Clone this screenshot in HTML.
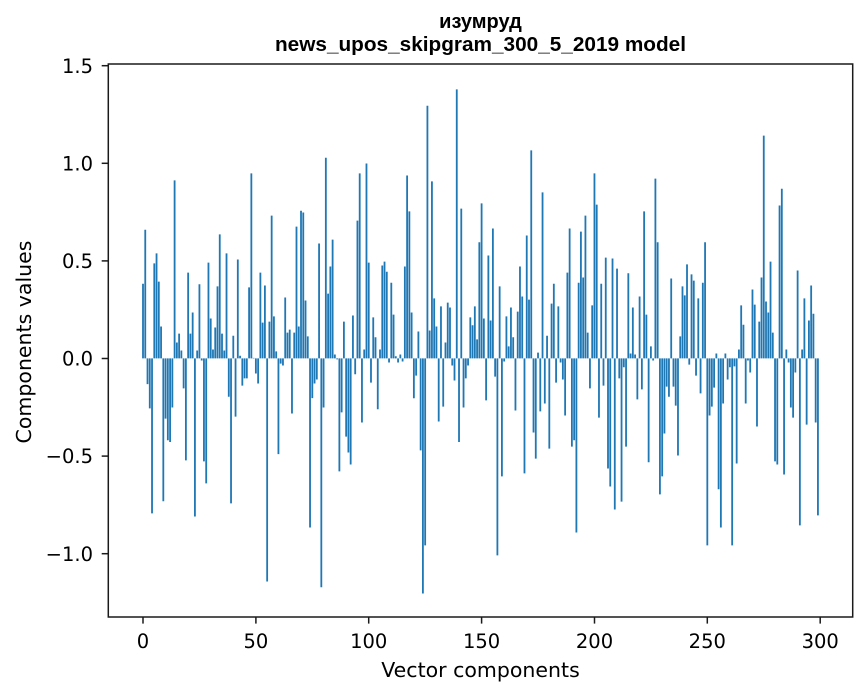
<!DOCTYPE html>
<html>
<head>
<meta charset="utf-8">
<style>
  html, body { margin: 0; padding: 0; background: #ffffff; }
  body { width: 867px; height: 696px; overflow: hidden; }
  svg { display: block; }
  .tick { font-family: "DejaVu Sans", "Liberation Sans", sans-serif; font-size: 19.5px; fill: #000; }
  .lab { font-family: "DejaVu Sans", "Liberation Sans", sans-serif; font-size: 20.5px; fill: #000; }
  .ttl { font-family: "Liberation Sans", "DejaVu Sans", sans-serif; font-size: 20px; font-weight: bold; fill: #000; }
</style>
</head>
<body>
<svg width="867" height="696" viewBox="0 0 867 696" xmlns="http://www.w3.org/2000/svg">
  <rect x="0" y="0" width="867" height="696" fill="#ffffff"/>

  <!-- bars in data coordinates -->
  <path fill="#1f77b4" transform="matrix(2.2573 0 0 -193.5 143.0 358.4)" d="
M-.4 0h.8v.386h-.8z
m1 0h.8v.665h-.8z
m1 0h.8v-.133h-.8z
m1 0h.8v-.258h-.8z
m1 0h.8v-.801h-.8z
m1 0h.8v.491h-.8z
m1 0h.8v.543h-.8z
m1 0h.8v.397h-.8z
m1 0h.8v.165h-.8z
m1 0h.8v-.738h-.8z
m1 0h.8v-.311h-.8z
m1 0h.8v-.423h-.8z
m1 0h.8v-.432h-.8z
m1 0h.8v-.254h-.8z
m1 0h.8v.920h-.8z
m1 0h.8v.082h-.8z
m1 0h.8v.128h-.8z
m1 0h.8v.041h-.8z
m1 0h.8v-.155h-.8z
m1 0h.8v-.527h-.8z
m1 0h.8v.443h-.8z
m1 0h.8v.128h-.8z
m1 0h.8v.237h-.8z
m1 0h.8v-.817h-.8z
m1 0h.8v.041h-.8z
m1 0h.8v.383h-.8z
m1 0h.8v-.011h-.8z
m1 0h.8v-.532h-.8z
m1 0h.8v-.646h-.8z
m1 0h.8v.495h-.8z
m1 0h.8v.206h-.8z
m1 0h.8v.046h-.8z
m1 0h.8v.160h-.8z
m1 0h.8v.372h-.8z
m1 0h.8v.641h-.8z
m1 0h.8v.128h-.8z
m1 0h.8v.041h-.8z
m1 0h.8v.543h-.8z
m1 0h.8v-.198h-.8z
m1 0h.8v-.749h-.8z
m1 0h.8v.117h-.8z
m1 0h.8v-.301h-.8z
m1 0h.8v.511h-.8z
m1 0h.8v.014h-.8z
m1 0h.8v-.141h-.8z
m1 0h.8v-.103h-.8z
m1 0h.8v-.103h-.8z
m1 0h.8v.367h-.8z
m1 0h.8v.956h-.8z
m1 0h.8v.003h-.8z
m1 0h.8v-.078h-.8z
m1 0h.8v-.130h-.8z
m1 0h.8v.443h-.8z
m1 0h.8v.185h-.8z
m1 0h.8v.377h-.8z
m1 0h.8v-1.153h-.8z
m1 0h.8v.190h-.8z
m1 0h.8v.738h-.8z
m1 0h.8v.217h-.8z
m1 0h.8v.036h-.8z
m1 0h.8v-.495h-.8z
m1 0h.8v-.027h-.8z
m1 0h.8v-.037h-.8z
m1 0h.8v.315h-.8z
m1 0h.8v.133h-.8z
m1 0h.8v.149h-.8z
m1 0h.8v-.285h-.8z
m1 0h.8v.133h-.8z
m1 0h.8v.681h-.8z
m1 0h.8v.165h-.8z
m1 0h.8v.763h-.8z
m1 0h.8v.754h-.8z
m1 0h.8v.299h-.8z
m1 0h.8v.114h-.8z
m1 0h.8v-.874h-.8z
m1 0h.8v-.205h-.8z
m1 0h.8v-.130h-.8z
m1 0h.8v-.109h-.8z
m1 0h.8v.594h-.8z
m1 0h.8v-1.183h-.8z
m1 0h.8v-.254h-.8z
m1 0h.8v1.037h-.8z
m1 0h.8v.335h-.8z
m1 0h.8v.475h-.8z
m1 0h.8v.614h-.8z
m1 0h.8v.020h-.8z
m1 0h.8v-.005h-.8z
m1 0h.8v-.584h-.8z
m1 0h.8v-.279h-.8z
m1 0h.8v.190h-.8z
m1 0h.8v-.404h-.8z
m1 0h.8v-.486h-.8z
m1 0h.8v-.548h-.8z
m1 0h.8v.222h-.8z
m1 0h.8v-.082h-.8z
m1 0h.8v.712h-.8z
m1 0h.8v.956h-.8z
m1 0h.8v-.331h-.8z
m1 0h.8v.046h-.8z
m1 0h.8v1.007h-.8z
m1 0h.8v.495h-.8z
m1 0h.8v-.125h-.8z
m1 0h.8v.212h-.8z
m1 0h.8v.109h-.8z
m1 0h.8v-.263h-.8z
m1 0h.8v.046h-.8z
m1 0h.8v.480h-.8z
m1 0h.8v.500h-.8z
m1 0h.8v.448h-.8z
m1 0h.8v-.021h-.8z
m1 0h.8v.391h-.8z
m1 0h.8v.226h-.8z
m1 0h.8v.011h-.8z
m1 0h.8v-.021h-.8z
m1 0h.8v.020h-.8z
m1 0h.8v-.016h-.8z
m1 0h.8v.475h-.8z
m1 0h.8v.945h-.8z
m1 0h.8v.760h-.8z
m1 0h.8v.237h-.8z
m1 0h.8v-.206h-.8z
m1 0h.8v-.089h-.8z
m1 0h.8v.139h-.8z
m1 0h.8v-.475h-.8z
m1 0h.8v-1.215h-.8z
m1 0h.8v-.966h-.8z
m1 0h.8v1.306h-.8z
m1 0h.8v.144h-.8z
m1 0h.8v.915h-.8z
m1 0h.8v.310h-.8z
m1 0h.8v.165h-.8z
m1 0h.8v-.326h-.8z
m1 0h.8v.269h-.8z
m1 0h.8v-.249h-.8z
m1 0h.8v.082h-.8z
m1 0h.8v.288h-.8z
m1 0h.8v.263h-.8z
m1 0h.8v-.037h-.8z
m1 0h.8v-.114h-.8z
m1 0h.8v1.390h-.8z
m1 0h.8v-.432h-.8z
m1 0h.8v.774h-.8z
m1 0h.8v-.254h-.8z
m1 0h.8v-.103h-.8z
m1 0h.8v-.037h-.8z
m1 0h.8v.212h-.8z
m1 0h.8v.171h-.8z
m1 0h.8v.269h-.8z
m1 0h.8v.098h-.8z
m1 0h.8v.600h-.8z
m1 0h.8v.801h-.8z
m1 0h.8v.206h-.8z
m1 0h.8v-.217h-.8z
m1 0h.8v.532h-.8z
m1 0h.8v.196h-.8z
m1 0h.8v.671h-.8z
m1 0h.8v-.094h-.8z
m1 0h.8v-1.018h-.8z
m1 0h.8v.372h-.8z
m1 0h.8v-.610h-.8z
m1 0h.8v-.016h-.8z
m1 0h.8v.217h-.8z
m1 0h.8v.062h-.8z
m1 0h.8v.263h-.8z
m1 0h.8v.109h-.8z
m1 0h.8v-.269h-.8z
m1 0h.8v.242h-.8z
m1 0h.8v.475h-.8z
m1 0h.8v.320h-.8z
m1 0h.8v-.594h-.8z
m1 0h.8v.635h-.8z
m1 0h.8v.304h-.8z
m1 0h.8v1.075h-.8z
m1 0h.8v-.383h-.8z
m1 0h.8v-.518h-.8z
m1 0h.8v.030h-.8z
m1 0h.8v-.274h-.8z
m1 0h.8v.858h-.8z
m1 0h.8v-.233h-.8z
m1 0h.8v.117h-.8z
m1 0h.8v-.466h-.8z
m1 0h.8v.283h-.8z
m1 0h.8v.386h-.8z
m1 0h.8v-.125h-.8z
m1 0h.8v.269h-.8z
m1 0h.8v-.021h-.8z
m1 0h.8v-.109h-.8z
m1 0h.8v-.295h-.8z
m1 0h.8v.443h-.8z
m1 0h.8v.671h-.8z
m1 0h.8v-.456h-.8z
m1 0h.8v-.423h-.8z
m1 0h.8v-.900h-.8z
m1 0h.8v.391h-.8z
m1 0h.8v.655h-.8z
m1 0h.8v.418h-.8z
m1 0h.8v.738h-.8z
m1 0h.8v.133h-.8z
m1 0h.8v-.155h-.8z
m1 0h.8v.274h-.8z
m1 0h.8v.956h-.8z
m1 0h.8v.795h-.8z
m1 0h.8v-.306h-.8z
m1 0h.8v.386h-.8z
m1 0h.8v-.141h-.8z
m1 0h.8v.521h-.8z
m1 0h.8v-.569h-.8z
m1 0h.8v-.662h-.8z
m1 0h.8v.516h-.8z
m1 0h.8v-.781h-.8z
m1 0h.8v.464h-.8z
m1 0h.8v-.103h-.8z
m1 0h.8v-.740h-.8z
m1 0h.8v-.046h-.8z
m1 0h.8v-.456h-.8z
m1 0h.8v.440h-.8z
m1 0h.8v.025h-.8z
m1 0h.8v.263h-.8z
m1 0h.8v.020h-.8z
m1 0h.8v-.212h-.8z
m1 0h.8v.320h-.8z
m1 0h.8v-.160h-.8z
m1 0h.8v.760h-.8z
m1 0h.8v.226h-.8z
m1 0h.8v-.537h-.8z
m1 0h.8v.062h-.8z
m1 0h.8v-.011h-.8z
m1 0h.8v.929h-.8z
m1 0h.8v.600h-.8z
m1 0h.8v-.703h-.8z
m1 0h.8v-.610h-.8z
m1 0h.8v-.388h-.8z
m1 0h.8v-.146h-.8z
m1 0h.8v-.198h-.8z
m1 0h.8v.413h-.8z
m1 0h.8v-.146h-.8z
m1 0h.8v-.244h-.8z
m1 0h.8v-.502h-.8z
m1 0h.8v.114h-.8z
m1 0h.8v.372h-.8z
m1 0h.8v.326h-.8z
m1 0h.8v.486h-.8z
m1 0h.8v-.032h-.8z
m1 0h.8v.434h-.8z
m1 0h.8v.402h-.8z
m1 0h.8v-.089h-.8z
m1 0h.8v.310h-.8z
m1 0h.8v-.181h-.8z
m1 0h.8v.391h-.8z
m1 0h.8v.600h-.8z
m1 0h.8v-.966h-.8z
m1 0h.8v-.295h-.8z
m1 0h.8v-.249h-.8z
m1 0h.8v-.151h-.8z
m1 0h.8v.025h-.8z
m1 0h.8v-.676h-.8z
m1 0h.8v-.874h-.8z
m1 0h.8v-.233h-.8z
m1 0h.8v.025h-.8z
m1 0h.8v-.109h-.8z
m1 0h.8v-.046h-.8z
m1 0h.8v-.966h-.8z
m1 0h.8v-.041h-.8z
m1 0h.8v-.543h-.8z
m1 0h.8v.046h-.8z
m1 0h.8v.274h-.8z
m1 0h.8v.174h-.8z
m1 0h.8v-.233h-.8z
m1 0h.8v-.011h-.8z
m1 0h.8v-.073h-.8z
m1 0h.8v.356h-.8z
m1 0h.8v.278h-.8z
m1 0h.8v-.352h-.8z
m1 0h.8v.190h-.8z
m1 0h.8v.418h-.8z
m1 0h.8v1.151h-.8z
m1 0h.8v.294h-.8z
m1 0h.8v.237h-.8z
m1 0h.8v.500h-.8z
m1 0h.8v.133h-.8z
m1 0h.8v-.532h-.8z
m1 0h.8v-.548h-.8z
m1 0h.8v.790h-.8z
m1 0h.8v.877h-.8z
m1 0h.8v-.600h-.8z
m1 0h.8v.046h-.8z
m1 0h.8v-.021h-.8z
m1 0h.8v-.254h-.8z
m1 0h.8v-.306h-.8z
m1 0h.8v-.073h-.8z
m1 0h.8v.454h-.8z
m1 0h.8v-.863h-.8z
m1 0h.8v.046h-.8z
m1 0h.8v.310h-.8z
m1 0h.8v-.342h-.8z
m1 0h.8v.196h-.8z
m1 0h.8v.377h-.8z
m1 0h.8v.231h-.8z
m1 0h.8v-.331h-.8z
m1 0h.8v-.811h-.8z
"/>

  <!-- axes frame -->
  <rect x="108.3" y="64" width="744.4" height="553" fill="none" stroke="#1a1a1a" stroke-width="1.5"/>

  <!-- x ticks -->
  <g stroke="#1a1a1a" stroke-width="1.5">
    <line x1="143.0" y1="617" x2="143.0" y2="623.6"/>
    <line x1="255.9" y1="617" x2="255.9" y2="623.6"/>
    <line x1="368.7" y1="617" x2="368.7" y2="623.6"/>
    <line x1="481.6" y1="617" x2="481.6" y2="623.6"/>
    <line x1="594.5" y1="617" x2="594.5" y2="623.6"/>
    <line x1="707.3" y1="617" x2="707.3" y2="623.6"/>
    <line x1="820.2" y1="617" x2="820.2" y2="623.6"/>
  </g>
  <g class="tick" text-anchor="middle">
    <text x="143.0" y="648">0</text>
    <text x="255.9" y="648">50</text>
    <text x="368.7" y="648">100</text>
    <text x="481.6" y="648">150</text>
    <text x="594.5" y="648">200</text>
    <text x="707.3" y="648">250</text>
    <text x="820.2" y="648">300</text>
  </g>

  <!-- y ticks -->
  <g stroke="#1a1a1a" stroke-width="1.5">
    <line x1="101.7" y1="65.7" x2="108.3" y2="65.7"/>
    <line x1="101.7" y1="163.3" x2="108.3" y2="163.3"/>
    <line x1="101.7" y1="260.9" x2="108.3" y2="260.9"/>
    <line x1="101.7" y1="358.5" x2="108.3" y2="358.5"/>
    <line x1="101.7" y1="456.1" x2="108.3" y2="456.1"/>
    <line x1="101.7" y1="553.7" x2="108.3" y2="553.7"/>
  </g>
  <g class="tick" text-anchor="end">
    <text x="93" y="72.8">1.5</text>
    <text x="93" y="170.4">1.0</text>
    <text x="93" y="268.0">0.5</text>
    <text x="93" y="365.6">0.0</text>
    <text x="93" y="463.2">−0.5</text>
    <text x="93" y="560.8">−1.0</text>
  </g>

  <!-- axis labels -->
  <text class="lab" x="480.5" y="677" text-anchor="middle">Vector components</text>
  <text class="lab" transform="translate(31,342) rotate(-90)" text-anchor="middle">Components values</text>

  <!-- title -->
  <text class="ttl" x="480.5" y="28" text-anchor="middle">изумруд</text>
  <text class="ttl" x="480.5" y="51" text-anchor="middle" textLength="411" lengthAdjust="spacingAndGlyphs">news_upos_skipgram_300_5_2019 model</text>
</svg>
</body>
</html>
